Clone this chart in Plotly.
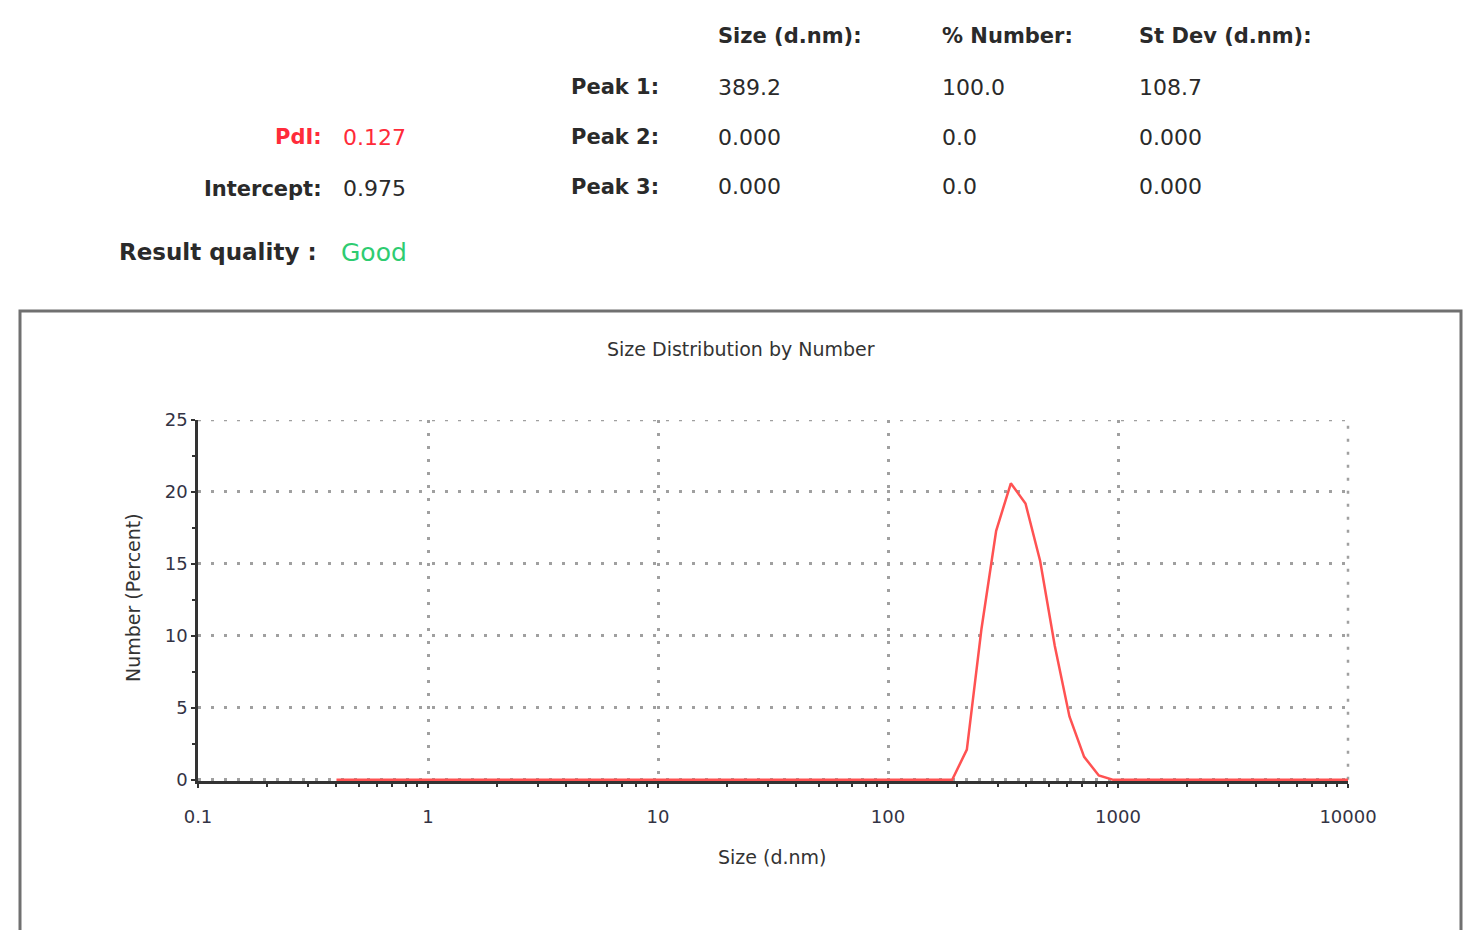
import plotly.graph_objects as go

# ---- data ----
sizes_nm = [0.4, 0.4632, 0.5365, 0.6213, 0.7195, 0.8332, 0.9649, 1.117, 1.294, 1.499,
            1.736, 2.01, 2.328, 2.696, 3.122, 3.615, 4.187, 4.849, 5.615, 6.503,
            7.531, 8.721, 10.1, 11.7, 13.54, 15.69, 18.17, 21.04, 24.36, 28.21,
            32.67, 37.84, 43.82, 50.75, 58.77, 68.06, 78.82, 91.28, 105.7, 122.4,
            141.8, 164.2, 190.1, 220.2, 255.0, 295.3, 342.0, 396.1, 458.7, 531.2,
            615.1, 712.4, 825.0, 955.4, 1106, 1281, 1484, 1718, 1990, 2305,
            2669, 3091, 3580, 4145, 4801, 5560, 6439, 7456, 8635, 10000]
number_pct = [0] * 42 + [0.0, 2.1, 10.5, 17.3, 20.6, 19.2, 15.2, 9.3,
                         4.4, 1.6, 0.3, 0.0] + [0] * 16

x_tickvals = [0.1, 1, 10, 100, 1000, 10000]
x_ticktext = ["0.1", "1", "10", "100", "1000", "10000"]
x_minor_vals = [0.2, 0.3, 0.4, 0.5, 0.6, 0.7, 0.8, 0.9,
                2, 3, 4, 5, 6, 7, 8, 9,
                20, 30, 40, 50, 60, 70, 80, 90,
                200, 300, 400, 500, 600, 700, 800, 900,
                2000, 3000, 4000, 5000, 6000, 7000, 8000, 9000]
y_tickvals = [0, 5, 10, 15, 20, 25]

header_cols = ["Size (d.nm):", "% Number:", "St Dev (d.nm):"]
peak_labels = ["Peak 1:", "Peak 2:", "Peak 3:"]
peak_size = ["389.2", "0.000", "0.000"]
peak_number = ["100.0", "0.0", "0.0"]
peak_stdev = ["108.7", "0.000", "0.000"]
pdi_value = "0.127"
intercept_value = "0.975"
quality_value = "Good"

# ---- layout geometry (pixels, reference coordinates) ----
W, H = 1481, 941
OFF = 8  # page offset of the rendered figure
L, R, T, B = 198 - OFF, 1348 - OFF, 420 - OFF, 781 - OFF


def px(x):
    return (x - OFF - L) / (R - L)


def py(y):
    return (B - (y - OFF)) / (B - T)


FONT = "DejaVu Sans"
DARK = "#2a2a2a"
GRID = "#a0a0a0"
GRID_DASH = "3px,10px"

fig = go.Figure()
fig.add_trace(go.Scatter(
    x=sizes_nm, y=number_pct, mode="lines",
    line=dict(color="#ff5252", width=2.5),
    hoverinfo="x+y", showlegend=False, cliponaxis=False,
))

ann = []


def text(x, y, s, size=21, color=DARK, bold=False, anchor="left"):
    ann.append(dict(
        x=px(x), y=py(y), xref="paper", yref="paper",
        text=f"<b>{s}</b>" if bold else s, showarrow=False,
        xanchor=anchor, yanchor="middle",
        font=dict(family=FONT, size=size, color=color),
    ))


col_x = [716, 940, 1137]
for cx, h in zip(col_x, header_cols):
    text(cx, 36, h, size=21, bold=True)
row_y = [87, 137, 187]
for ry, lab, a, b, c in zip(row_y, peak_labels, peak_size, peak_number, peak_stdev):
    text(569, ry, lab, size=21, bold=True)
    text(col_x[0], ry, a, size=22)
    text(col_x[1], ry, b, size=22)
    text(col_x[2], ry, c, size=22)

text(324, 137, "PdI:", size=21, color="#ff2b3a", bold=True, anchor="right")
text(341, 137, pdi_value, size=22, color="#ff2b3a")
text(324, 189, "Intercept:", size=21, bold=True, anchor="right")
text(341, 189, intercept_value, size=22)
text(117, 252, "Result quality :", size=23, bold=True)
text(339, 252, quality_value, size=25, color="#2ecc71")

text(741, 349, "Size Distribution by Number", size=19, color="#333333", anchor="center")
text(772, 857, "Size (d.nm)", size=19, color="#333333", anchor="center")
ann.append(dict(
    x=px(133), y=py(598), xref="paper", yref="paper", text="Number (Percent)",
    showarrow=False, textangle=-90, xanchor="center", yanchor="middle",
    font=dict(family=FONT, size=19, color="#333333"),
))

shapes = [
    # outer frame (bottom edge is cut off)
    dict(type="path", xref="paper", yref="paper",
         path=(f"M {px(20)},{py(930)} L {px(20)},{py(311)} "
               f"L {px(1461)},{py(311)} L {px(1461)},{py(930)}"),
         line=dict(color="#707070", width=3)),
    # dotted border grid lines at the top and right ends of the axes
    dict(type="line", xref="paper", yref="y",
         x0=0, x1=1, y0=y_tickvals[-1], y1=y_tickvals[-1],
         line=dict(color=GRID, width=2.5, dash=GRID_DASH), layer="below"),
    dict(type="line", xref="paper", yref="y",
         x0=1, x1=1, y0=0, y1=y_tickvals[-1],
         line=dict(color=GRID, width=2.5, dash=GRID_DASH), layer="below"),
]

fig.update_layout(
    width=W, height=H, autosize=False,
    margin=dict(l=L, r=W - R, t=T, b=H - B),
    paper_bgcolor="white", plot_bgcolor="white",
    annotations=ann, shapes=shapes,
    font=dict(family=FONT, color="#333333"),
)
fig.update_xaxes(
    type="log", range=[-1, 4],
    tickmode="array", tickvals=x_tickvals, ticktext=x_ticktext,
    tickfont=dict(family=FONT, size=18, color="#333344"),
    ticks="outside", ticklen=4, tickwidth=2, tickcolor="#333333",
    ticklabelstandoff=14,
    showline=True, linecolor="#333333", linewidth=2.5,
    showgrid=True, gridcolor=GRID, gridwidth=2.5, griddash=GRID_DASH,
    minor=dict(tickmode="array", tickvals=x_minor_vals, ticks="outside",
               ticklen=3, tickwidth=2, tickcolor="#333333", showgrid=False),
    zeroline=False, layer="below traces",
)
fig.update_yaxes(
    range=[-0.08, 25], tickmode="array", tickvals=y_tickvals,
    tickfont=dict(family=FONT, size=18, color="#333344"),
    ticks="outside", ticklen=4, tickwidth=2, tickcolor="#333333",
    showline=True, linecolor="#333333", linewidth=2.5,
    showgrid=True, gridcolor=GRID, gridwidth=2.5, griddash=GRID_DASH,
    minor=dict(tickmode="array", tickvals=[2.5, 7.5, 12.5, 17.5, 22.5],
               ticks="outside", ticklen=3, tickwidth=2,
               tickcolor="#333333", showgrid=False),
    zeroline=False, layer="below traces",
)

fig.write_html("out.html")
